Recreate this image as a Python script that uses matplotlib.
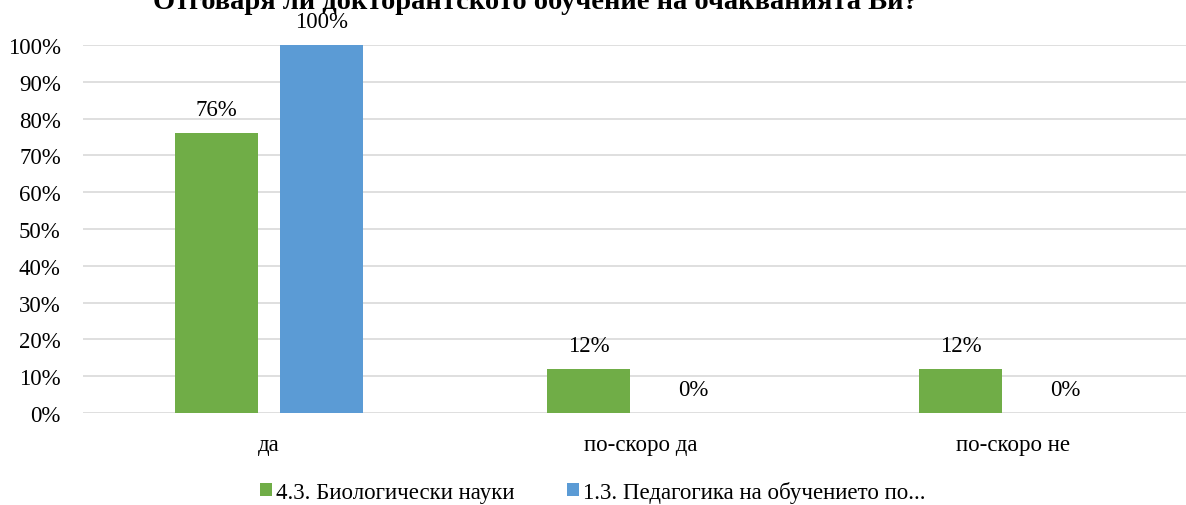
import matplotlib
matplotlib.use("Agg")
import matplotlib.pyplot as plt
import numpy as np

categories = ["да", "по-скоро да", "по-скоро не"]
series_names = ["4.3. Биологически науки", "1.3. Педагогика на обучението по..."]
bio = [76, 12, 12]
ped = [100, 0, 0]
title = "Отговаря ли докторантското обучение на очакванията Ви?"

plt.rcParams['font.family'] = ['Liberation Serif', 'DejaVu Serif']
fs = 16.5

fig = plt.figure(figsize=(11.86, 5.06), dpi=100)
# axes box in pixels: left 83, bottom at 414, top at 46
ax = fig.add_axes([83/1186, (506-414)/506, (1186-83)/1186, 368/506])

x = np.arange(len(categories))
w = 0.223
off = 0.141
col1 = '#70ad47'
col2 = '#5b9bd5'

b1 = ax.bar(x - off, bio, w, color=col1, label=series_names[0], zorder=3)
b2 = ax.bar(x + off, ped, w, color=col2, label=series_names[1], zorder=3)

for bars, vals in [(b1, bio), (b2, ped)]:
    for b, v in zip(bars, vals):
        ax.annotate(f"{v}%", (b.get_x() + b.get_width()/2, v), xytext=(0, 17),
                    textcoords='offset points', ha='center', va='center', fontsize=fs)

ax.set_xlim(-0.5, -0.5 + 1103/372)
ax.set_ylim(0, 100)
ax.set_yticks(range(0, 101, 10))
ax.set_yticklabels([f"{t}%" for t in range(0, 101, 10)], fontsize=fs)
ax.set_xticks(x)
ax.set_xticklabels(categories, fontsize=fs)
ax.tick_params(axis='y', length=0, pad=16)
ax.tick_params(axis='x', length=0, pad=15)
ax.yaxis.grid(True, color='#d9d9d9', linewidth=1.2, zorder=0)
for s in ax.spines.values():
    s.set_visible(False)

# title is partly cut off at the top, as in the original
fig.text(535/1186, 1 - 9/506, title, ha='center', va='baseline', fontsize=20.5, fontweight='bold')

fig.legend(handles=[b1, b2], loc='center', bbox_to_anchor=(593/1186, 1 - 493/506), ncol=2,
           frameon=False, fontsize=fs, handlelength=0.5, handleheight=0.5,
           handletextpad=0.2, columnspacing=2.3)

fig.savefig("out.png", dpi=100)
